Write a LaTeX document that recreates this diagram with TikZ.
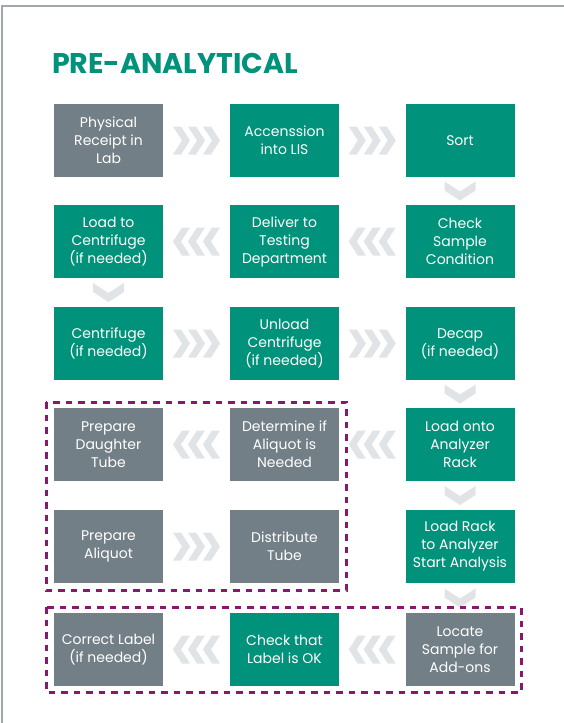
\documentclass[tikz,border=0pt]{standalone}
\usepackage{fontspec}
\setmainfont{Poppins}
\usetikzlibrary{calc}
\definecolor{teal1}{RGB}{0,146,122}
\definecolor{gray1}{RGB}{115,127,135}
\definecolor{chevgray}{RGB}{225,228,230}
\definecolor{purp}{RGB}{135,24,110}
\definecolor{bordergray}{RGB}{160,168,174}
\tikzset{
  box/.style={rectangle, minimum width=109pt, minimum height=73pt, inner sep=0pt,
    align=center, text=white, font=\fontsize{14}{18}\selectfont},
  tealbox/.style={box, fill=teal1},
  graybox/.style={box, fill=gray1},
  chev/.style={fill=chevgray},
  frame/.style={draw=purp, line width=3pt, dash pattern=on 6.5pt off 6pt},
}
\newcommand\chevRight[2]{%
  \path (#1) -- (#2) coordinate[midway] (cm);
  \begin{scope}[shift={(cm)}]
    \foreach \k in {-1,0,1}{
      \fill[chev] ({\k*15-8.5},-14) -- ++(8,0) -- ++(9,14) -- ++(-9,14) -- ++(-8,0) -- ++(9,-14) -- cycle;
    }
  \end{scope}}
\newcommand\chevLeft[2]{%
  \path (#1) -- (#2) coordinate[midway] (cm);
  \begin{scope}[shift={(cm)}, xscale=-1]
    \foreach \k in {-1,0,1}{
      \fill[chev] ({\k*15-8.5},-14) -- ++(8,0) -- ++(9,14) -- ++(-9,14) -- ++(-8,0) -- ++(9,-14) -- cycle;
    }
  \end{scope}}
\newcommand\chevDown[2]{%
  \path (#1.south) -- (#2.north) coordinate[midway] (cm);
  \begin{scope}[shift={(cm)}]
    \fill[chev] (-15.5,-9.5) -- (0,0.5) -- (15.5,-9.5) -- (15.5,-0.5) -- (0,9.5) -- (-15.5,-0.5) -- cycle;
  \end{scope}}
\begin{document}
\begin{tikzpicture}[x=1pt,y=-1pt]
\useasboundingbox (0,0) rectangle (564,723);
\fill[white] (0,0) rectangle (564,723);
\draw[bordergray, line width=1.5pt] (2,723) -- (2,6) -- (564,6);
\node[anchor=base west, inner sep=0pt, text=teal1, font=\fontsize{28.5}{34}\selectfont\bfseries] (title) at (52,73) {PRE-ANALYTICAL};

% row 1
\node[graybox] (a1) at (108.5,140.5) {Physical\\Receipt in\\Lab};
\node[tealbox] (a2) at (284.5,140.5) {Accenssion\\into LIS};
\node[tealbox] (a3) at (460,140.5) {Sort};
% row 2
\node[tealbox] (b1) at (108.5,241.5) {Load to\\Centrifuge\\(if needed)};
\node[tealbox] (b2) at (284.5,241.5) {Deliver to\\Testing\\Department};
\node[tealbox] (b3) at (460,241.5) {Check\\Sample\\Condition};
% row 3
\node[tealbox] (c1) at (108.5,343.5) {Centrifuge\\(if needed)};
\node[tealbox] (c2) at (284.5,343.5) {Unload\\Centrifuge\\(if needed)};
\node[tealbox] (c3) at (460,343.5) {Decap\\(if needed)};
% row 4
\node[graybox] (d1) at (108.5,444.5) {Prepare\\Daughter\\Tube};
\node[graybox] (d2) at (284.5,444.5) {Determine if\\Aliquot is\\Needed};
\node[tealbox] (d3) at (460,444.5) {Load onto\\Analyzer\\Rack};
% row 5
\node[graybox] (e1) at (108.5,546.5) {Prepare\\Aliquot};
\node[graybox] (e2) at (284.5,546.5) {Distribute\\Tube};
\node[tealbox] (e3) at (460,546.5) {Load Rack\\to Analyzer\\Start Analysis};
% row 6
\node[graybox] (f1) at (108.5,649.5) {Correct Label\\(if needed)};
\node[tealbox] (f2) at (284.5,649.5) {Check that\\Label is OK};
\node[graybox] (f3) at (460,649.5) {Locate\\Sample for\\Add-ons};

% chevrons
\chevRight{a1}{a2}
\chevRight{a2}{a3}
\chevDown{a3}{b3}
\chevLeft{b3}{b2}
\chevLeft{b2}{b1}
\chevDown{b1}{c1}
\chevRight{c1}{c2}
\chevRight{c2}{c3}
\chevDown{c3}{d3}
\chevLeft{d3}{d2}
\chevLeft{d2}{d1}
\chevRight{e1}{e2}
\chevDown{d3}{e3}
\chevDown{e3}{f3}
\chevLeft{f3}{f2}
\chevLeft{f2}{f1}

% dashed frames
\draw[frame] (46,402) rectangle (346,590);
\draw[frame] (46,607) rectangle (521,692);
\end{tikzpicture}
\end{document}
